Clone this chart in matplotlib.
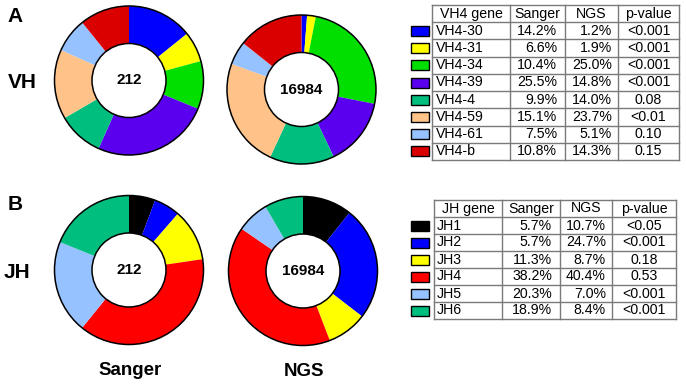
import matplotlib
matplotlib.use("Agg")
import matplotlib.pyplot as plt
from matplotlib.patches import Circle, Rectangle

plt.rcParams["font.family"] = ["Liberation Sans", "DejaVu Sans"]

# -----------------------------
# Data
# -----------------------------
vh_genes = ["VH4-30", "VH4-31", "VH4-34", "VH4-39", "VH4-4", "VH4-59", "VH4-61", "VH4-b"]
vh_sanger = [14.2, 6.6, 10.4, 25.5, 9.9, 15.1, 7.5, 10.8]
vh_ngs = [1.2, 1.9, 25.0, 14.8, 14.0, 23.7, 5.1, 14.3]
vh_p = ["<0.001", "<0.001", "<0.001", "<0.001", "0.08", "<0.01", "0.10", "0.15"]
vh_colors = ["#0000FF", "#FFFF00", "#00DF00", "#5A00EE", "#00BF7E", "#FFC38A", "#96C3FF", "#DB0000"]

jh_genes = ["JH1", "JH2", "JH3", "JH4", "JH5", "JH6"]
jh_sanger = [5.7, 5.7, 11.3, 38.2, 20.3, 18.9]
jh_ngs = [10.7, 24.7, 8.7, 40.4, 7.0, 8.4]
jh_p = ["<0.05", "<0.001", "0.18", "0.53", "<0.001", "<0.001"]
jh_colors = ["#000000", "#0000FF", "#FFFF00", "#FF0000", "#96C3FF", "#00BF7E"]

n_sanger = "212"
n_ngs = "16984"

W, H = 686, 384
fig = plt.figure(figsize=(W / 100, H / 100), dpi=100)
ax = fig.add_axes([0, 0, 1, 1])


def Y(y):
    # pixel row (top-down) -> data y (bottom-up)
    return H - y


def donut(cx, cy, values, colors, label, r=74.5, rin=37):
    ax.pie(values, colors=colors, startangle=90, counterclock=False,
           radius=r, center=(cx, Y(cy)),
           wedgeprops=dict(width=r - rin, linewidth=0))
    ax.add_patch(Circle((cx, Y(cy)), r, fill=False, ec="black", lw=1.1))
    ax.add_patch(Circle((cx, Y(cy)), rin, fill=False, ec="black", lw=1.1))
    ax.text(cx, Y(cy), label, ha="center", va="center",
            fontsize=11, fontweight="bold")


donut(129, 80.5, vh_sanger, vh_colors, n_sanger)
donut(301.5, 89.5, vh_ngs, vh_colors, n_ngs)
donut(129, 270, jh_sanger, jh_colors, n_sanger)
donut(303, 271, jh_ngs, jh_colors, n_ngs)

# -----------------------------
# Panel labels
# -----------------------------
ax.text(15, Y(17), "A", ha="center", va="center", fontsize=15, fontweight="bold")
ax.text(22, Y(82), "VH", ha="center", va="center", fontsize=15, fontweight="bold")
ax.text(15, Y(205), "B", ha="center", va="center", fontsize=15, fontweight="bold")
ax.text(17, Y(272), "JH", ha="center", va="center", fontsize=15, fontweight="bold")
ax.text(130, Y(375), "Sanger", ha="center", va="baseline", fontsize=13.5, fontweight="bold")
ax.text(304, Y(376), "NGS", ha="center", va="baseline", fontsize=13.5, fontweight="bold")


# -----------------------------
# Tables
# -----------------------------
FS = 10.2


def table(header, genes, sanger, ngs, pvals, colors, cols, top, bottom, txt_x):
    nrows = len(genes) + 1
    rh = (bottom - top) / nrows
    gc = "#7A7A7A"
    # horizontal lines
    for i in range(nrows + 1):
        y = top + i * rh
        ax.plot([cols[0], cols[-1]], [Y(y), Y(y)], color=gc, lw=1.0)
    for x in cols:
        ax.plot([x, x], [Y(top), Y(bottom)], color=gc, lw=1.0)
    # header
    hy = top + rh / 2
    ax.text((cols[0] + cols[1]) / 2, Y(hy), header, ha="center", va="center", fontsize=FS)
    ax.text((cols[1] + cols[2]) / 2, Y(hy), "Sanger", ha="center", va="center", fontsize=FS)
    ax.text((cols[2] + cols[3]) / 2, Y(hy), "NGS", ha="center", va="center", fontsize=FS)
    ax.text((cols[3] + cols[4]) / 2, Y(hy), "p-value", ha="center", va="center", fontsize=FS)
    for i, g in enumerate(genes):
        yc = top + (i + 1.5) * rh
        ax.add_patch(Rectangle((410.5, Y(yc + 5)), 18, 10, fc=colors[i],
                               ec="black", lw=1.0))
        ax.text(txt_x, Y(yc), g, ha="left", va="center", fontsize=FS)
        ax.text(cols[2] - 8, Y(yc), "%.1f%%" % sanger[i], ha="right", va="center", fontsize=FS)
        ax.text(cols[3] - 6, Y(yc), "%.1f%%" % ngs[i], ha="right", va="center", fontsize=FS)
        ax.text((cols[3] + cols[4]) / 2, Y(yc), pvals[i], ha="center", va="center", fontsize=FS)


table("VH4 gene", vh_genes, vh_sanger, vh_ngs, vh_p, vh_colors,
      [432, 510, 565, 618, 679], 5, 160, 436)
table("JH gene", jh_genes, jh_sanger, jh_ngs, jh_p, jh_colors,
      [434, 502, 560, 612, 676], 200, 319, 437)

ax.set_xlim(0, W)
ax.set_ylim(0, H)
ax.set_aspect("auto")
ax.axis("off")

fig.savefig("out.png", dpi=100)
